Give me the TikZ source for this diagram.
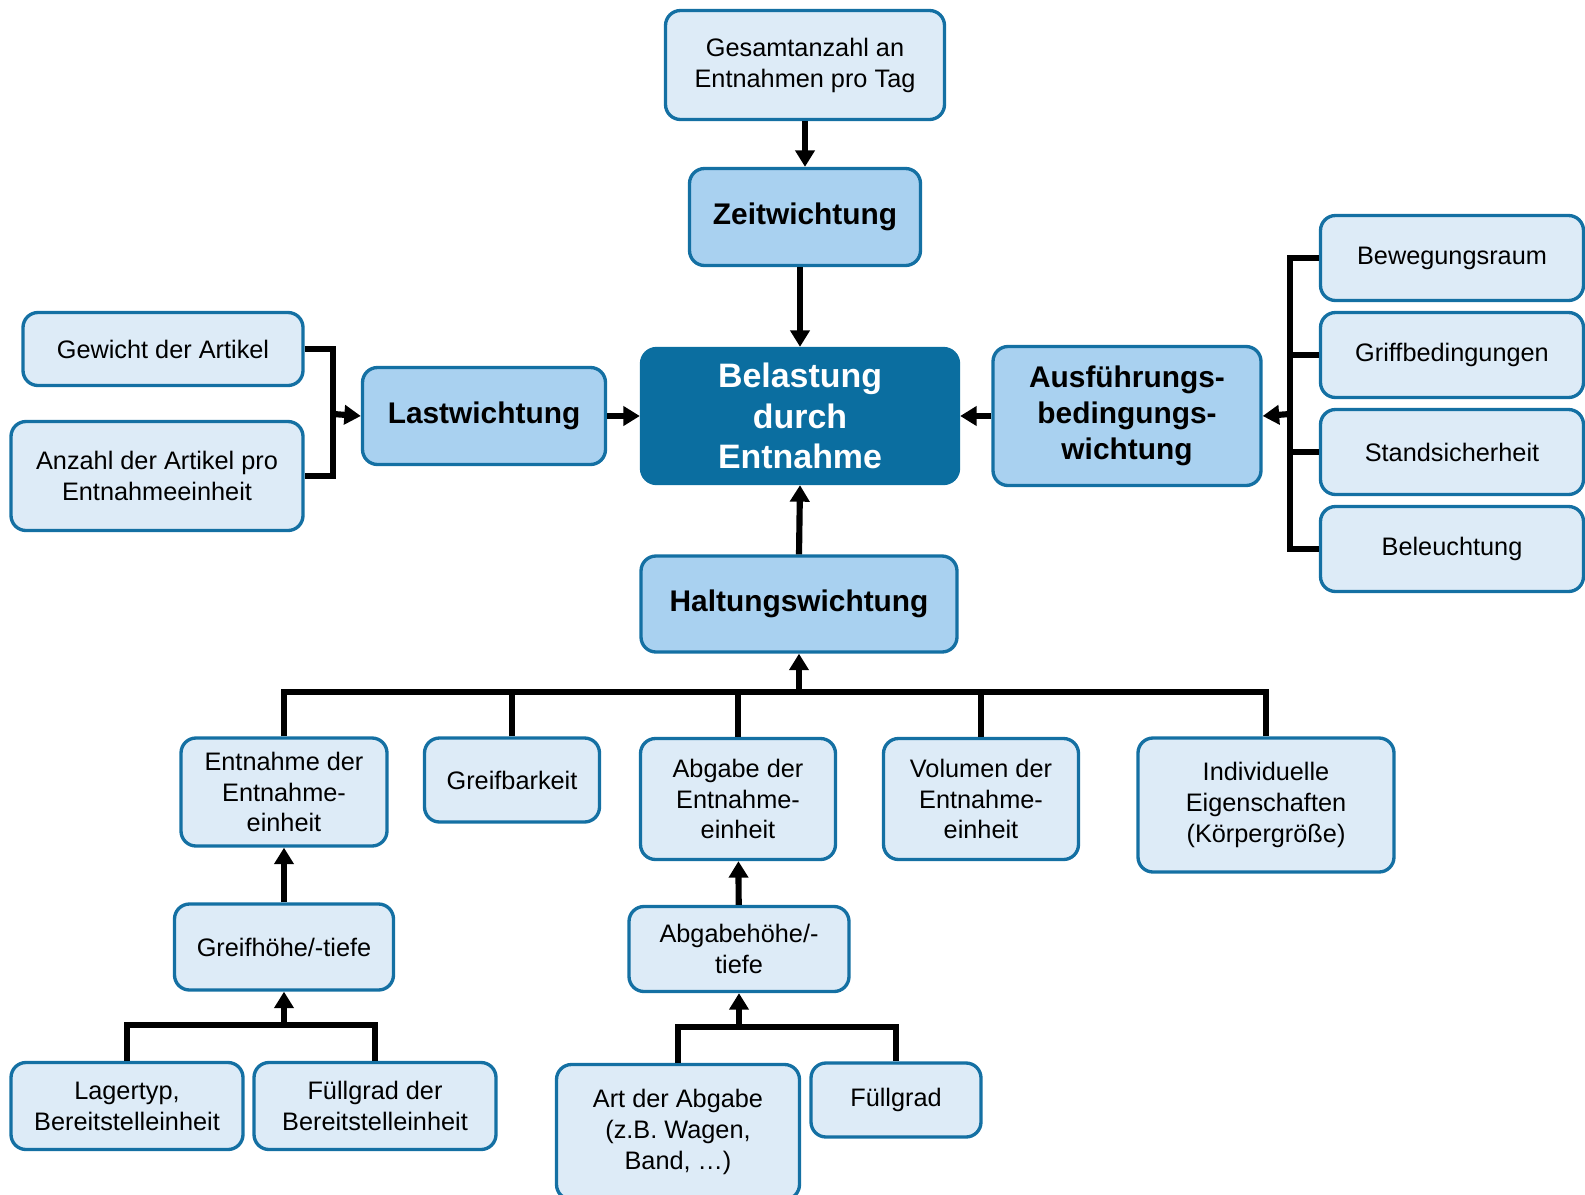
\documentclass[tikz,border=0pt]{standalone}
\usepackage{fontspec}
\setmainfont{Liberation Sans}
\usetikzlibrary{arrows.meta}
\definecolor{rand}{HTML}{1470A3}
\definecolor{hell}{HTML}{DDEBF7}
\definecolor{mittel}{HTML}{A9D1F0}
\definecolor{kern}{HTML}{0B6EA0}
\tikzset{
  kasten/.style={draw=rand,line width=1.9pt,rounded corners=0.3cm,fill=hell,
    align=center,inner sep=2pt,font=\fontsize{14.4}{17.6}\selectfont},
  wichtung/.style={kasten,fill=mittel,font=\fontsize{17}{20.6}\selectfont\bfseries},
  linie/.style={line width=3.5pt},
  pfeil/.style={linie,-{Triangle[length=0.33cm,width=0.38cm]}},
}
\begin{document}
\begin{tikzpicture}[x=0.02cm,y=-0.02cm]
  \useasboundingbox (0,0) rectangle (1585,1194);
  % Mitte
  \node[kasten,fill=kern,draw=kern,text=white,minimum width=317*0.02cm,minimum height=135*0.02cm,
    font=\fontsize{19.3}{23.2}\selectfont\bfseries] (bel) at (800,416) {Belastung\\durch\\Entnahme};
  % oben: Zeitwichtung
  \node[kasten,minimum width=279*0.02cm,minimum height=109*0.02cm] (gesamt) at (805,65) {Gesamtanzahl an\\Entnahmen pro Tag};
  \node[wichtung,minimum width=231*0.02cm,minimum height=97*0.02cm] (zeit) at (805,217) {Zeitwichtung};
  \draw[pfeil] (gesamt) -- (zeit);
  \draw[pfeil] (bel.north |- zeit.south) -- (bel.north);
  % links: Lastwichtung
  \node[wichtung,minimum width=243*0.02cm,minimum height=97*0.02cm] (last) at (484,416) {Lastwichtung};
  \node[kasten,minimum width=280*0.02cm,minimum height=73*0.02cm] (gew) at (163,349) {Gewicht der Artikel};
  \node[kasten,minimum width=292*0.02cm,minimum height=109*0.02cm] (anz) at (157,476) {Anzahl der Artikel pro\\Entnahmeeinheit};
  \coordinate (lk) at (333,414);
  \draw[linie] (gew.east) -| (lk) |- (anz.east);
  \draw[pfeil] (lk) -- (last.west);
  \draw[pfeil] (last) -- (bel);
  % rechts: Ausfuehrungsbedingungswichtung
  \node[wichtung,minimum width=268*0.02cm,minimum height=139*0.02cm] (ausf) at (1127,416) {Ausführungs-\\bedingungs-\\wichtung};
  \node[kasten,minimum width=263*0.02cm,minimum height=85*0.02cm] (bew) at (1452,258) {Bewegungsraum};
  \node[kasten,minimum width=263*0.02cm,minimum height=85*0.02cm] (griff) at (1452,355) {Griffbedingungen};
  \node[kasten,minimum width=263*0.02cm,minimum height=85*0.02cm] (stand) at (1452,452) {Standsicherheit};
  \node[kasten,minimum width=263*0.02cm,minimum height=85*0.02cm] (licht) at (1452,549) {Beleuchtung};
  \coordinate (rk) at (1290,414);
  \draw[linie] (bew.west) -| (rk) |- (licht.west);
  \draw[linie] (griff.west) -- (griff.west -| rk);
  \draw[linie] (stand.west) -- (stand.west -| rk);
  \draw[pfeil] (rk) -- (ausf.east);
  \draw[pfeil] (ausf) -- (bel);
  % unten: Haltungswichtung
  \node[wichtung,minimum width=316*0.02cm,minimum height=96*0.02cm] (halt) at (799,604) {Haltungswichtung};
  \draw[pfeil] (halt.north) -- (bel.south);
  \node[kasten,minimum width=206*0.02cm,minimum height=108*0.02cm] (entn) at (284,792) {Entnahme der\\Entnahme-\\einheit};
  \node[kasten,minimum width=175*0.02cm,minimum height=84*0.02cm] (greifb) at (512,780) {Greifbarkeit};
  \node[kasten,minimum width=195*0.02cm,minimum height=121*0.02cm] (abg) at (738,799) {Abgabe der\\Entnahme-\\einheit};
  \node[kasten,minimum width=195*0.02cm,minimum height=121*0.02cm] (vol) at (981,799) {Volumen der\\Entnahme-\\einheit};
  \node[kasten,minimum width=256*0.02cm,minimum height=134*0.02cm] (indiv) at (1266,805) {Individuelle\\Eigenschaften\\(Körpergröße)};
  \coordinate (hb) at (799,692);
  \draw[linie] (entn.north) |- (hb);
  \draw[linie] (greifb.north) |- (hb);
  \draw[linie] (abg.north) |- (hb);
  \draw[linie] (vol.north) |- (hb);
  \draw[linie] (indiv.north) |- (hb);
  \draw[pfeil] (hb) -- (halt.south);
  % Greifhoehe
  \node[kasten,minimum width=219*0.02cm,minimum height=86*0.02cm] (greifh) at (284,947) {Greifhöhe/-tiefe};
  \draw[pfeil] (greifh) -- (entn);
  \node[kasten,minimum width=232*0.02cm,minimum height=87*0.02cm] (lager) at (127,1106) {Lagertyp,\\Bereitstelleinheit};
  \node[kasten,minimum width=242*0.02cm,minimum height=87*0.02cm] (fuellb) at (375,1106) {Füllgrad der\\Bereitstelleinheit};
  \coordinate (gb) at (284,1025);
  \draw[linie] (lager.north) |- (gb) -| (fuellb.north);
  \draw[pfeil] (gb) -- (greifh.south);
  % Abgabehoehe
  \node[kasten,minimum width=220*0.02cm,minimum height=85*0.02cm] (abgh) at (739,949) {Abgabehöhe/-\\tiefe};
  \draw[pfeil] (abgh) -- (abg);
  \node[kasten,minimum width=243*0.02cm,minimum height=135*0.02cm] (art) at (678,1132) {Art der Abgabe\\(z.B. Wagen,\\Band, …)};
  \node[kasten,minimum width=170*0.02cm,minimum height=74*0.02cm] (fuell) at (896,1100) {Füllgrad};
  \coordinate (ab) at (739,1027);
  \draw[linie] (art.north |- 0,1063) |- (ab) -| (fuell.north);
  \draw[pfeil] (ab) -- (abgh.south);
\end{tikzpicture}
\end{document}
